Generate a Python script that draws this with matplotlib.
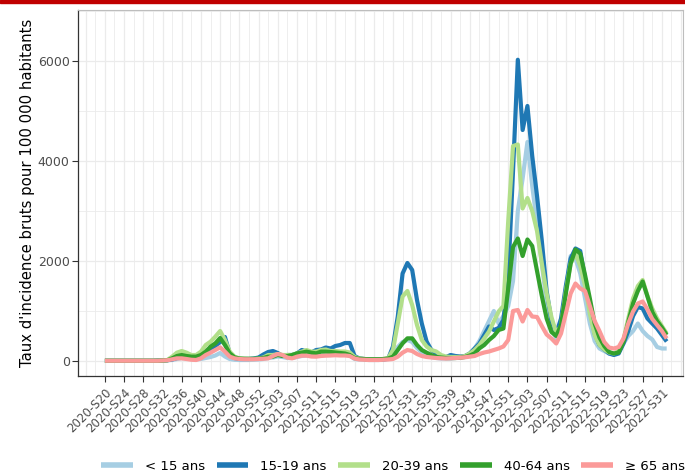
import matplotlib
matplotlib.use("Agg")
import matplotlib.pyplot as plt
from matplotlib.ticker import FixedLocator, MultipleLocator
from matplotlib.patches import Rectangle

# ---- categories (ISO weeks) ----
weeks_2020 = ["2020-S%02d" % w for w in range(20, 54)]
weeks_2021 = ["2021-S%02d" % w for w in range(1, 53)]
weeks_2022 = ["2022-S%02d" % w for w in range(1, 33)]
weeks = weeks_2020 + weeks_2021 + weeks_2022

age_groups = ["< 15 ans", "15-19 ans", "20-39 ans", "40-64 ans", "\u2265 65 ans"]
colors = ["#a6cee3", "#1f78b4", "#b2df8a", "#33a02c", "#fb9a99"]

# ---- values (taux d'incidence pour 100 000 habitants) ----
inc_lt15 = [5, 5, 5, 5, 5, 5, 5, 5, 5, 5, 5, 10, 10, 15,
            20, 40, 60, 50, 40, 35, 40, 60, 80, 110, 160, 90, 40, 25, 20, 20,
            20, 25, 30, 40, 60, 70, 90, 80, 60, 60, 80, 100, 110, 100, 100, 110,
            120, 120, 130, 130, 130, 110, 40, 30, 25, 20, 20, 20, 25, 40,
            120, 280, 380, 420, 380, 260, 170, 110, 80, 60, 50, 50, 50, 60, 70, 90,
            150, 250, 400, 600, 800, 1000, 750, 900, 1100, 1600, 3000, 3650, 4380, 3500,
            2750, 1950, 1150, 650, 450, 650, 1400, 2100, 2050, 1750, 1250, 750, 400, 250,
            200, 150, 150, 190, 350, 500, 600, 750, 600, 500, 430, 280, 250, 250]

inc_15_19 = [5, 5, 5, 5, 5, 5, 5, 5, 5, 5, 5, 10, 10, 15,
             30, 60, 90, 70, 60, 60, 100, 150, 250, 300, 380, 480, 150, 60, 40, 40,
             40, 50, 70, 130, 180, 200, 160, 100, 120, 120, 150, 220, 190, 170, 220, 230,
             270, 250, 300, 320, 360, 360, 100, 50, 40, 30, 30, 30, 30, 45,
             290, 890, 1750, 1960, 1820, 1220, 750, 390, 220, 150, 90, 75, 120, 100, 90, 100,
             150, 250, 350, 520, 690, 620, 660, 820, 1700, 3800, 6025, 4620, 5100, 4100,
             3300, 2400, 1400, 800, 550, 850, 1500, 2050, 2250, 2200, 1650, 1050, 550, 320,
             230, 150, 120, 150, 350, 600, 900, 1080, 1050, 850, 750, 650, 520, 390]

inc_20_39 = [5, 5, 5, 5, 5, 5, 5, 5, 5, 5, 5, 5, 10, 20,
             87, 167, 200, 167, 120, 120, 187, 320, 387, 487, 600, 420, 187, 87, 53, 45,
             40, 40, 50, 70, 120, 120, 140, 120, 120, 120, 153, 187, 220, 187, 187, 220,
             230, 200, 200, 190, 190, 170, 80, 50, 40, 30, 30, 30, 40, 60,
             220, 750, 1290, 1400, 1120, 720, 420, 290, 220, 190, 120, 90, 80, 80, 80, 100,
             150, 220, 320, 450, 590, 790, 990, 1100, 2800, 4300, 4330, 3050, 3260, 3000,
             2600, 1950, 1350, 880, 560, 700, 1400, 1950, 2150, 1900, 1500, 950, 520, 320,
             230, 170, 150, 200, 420, 850, 1250, 1500, 1620, 1300, 1050, 850, 700, 550]

inc_40_64 = [5, 5, 5, 5, 5, 5, 5, 5, 5, 5, 5, 5, 10, 15,
             53, 100, 120, 100, 87, 87, 120, 187, 287, 353, 460, 320, 153, 73, 50, 45,
             45, 45, 50, 60, 87, 87, 120, 100, 100, 120, 153, 167, 187, 167, 153, 187,
             187, 180, 170, 160, 150, 120, 60, 45, 40, 35, 35, 35, 40, 50,
             87, 220, 353, 453, 453, 320, 220, 167, 120, 80, 70, 60, 60, 60, 65, 80,
             110, 153, 253, 320, 420, 500, 620, 650, 1450, 2280, 2450, 2100, 2430, 2300,
             1800, 1300, 850, 580, 500, 720, 1350, 1950, 2230, 2150, 1720, 1250, 750, 470,
             300, 180, 150, 170, 380, 780, 1150, 1400, 1590, 1290, 980, 800, 670, 520]

inc_ge65 = [5, 5, 5, 5, 5, 5, 5, 5, 5, 5, 5, 5, 10, 15,
            33, 53, 53, 40, 25, 20, 53, 120, 167, 220, 273, 187, 87, 53, 40, 35,
            35, 35, 40, 45, 53, 100, 140, 120, 67, 53, 87, 107, 107, 90, 87, 100,
            107, 110, 115, 110, 110, 100, 50, 30, 25, 20, 20, 20, 25, 30,
            40, 87, 167, 220, 200, 140, 100, 80, 70, 60, 55, 50, 55, 60, 65, 75,
            87, 100, 140, 170, 190, 220, 250, 290, 420, 1000, 1020, 790, 1020, 890,
            880, 700, 530, 450, 350, 550, 950, 1350, 1550, 1450, 1400, 1100, 800, 600,
            380, 270, 250, 280, 450, 750, 990, 1150, 1190, 1030, 840, 720, 600, 450]

series = [inc_lt15, inc_15_19, inc_20_39, inc_40_64, inc_ge65]

# ---- figure ----
fig = plt.figure(figsize=(6.85, 4.76), dpi=100)
ax = fig.add_axes([78 / 685, 1 - 376 / 476, 605 / 685, 366 / 476])

x = list(range(len(weeks)))
for vals, col, lab in zip(series, colors, age_groups):
    ax.plot(x[:len(vals)], vals, color=col, lw=3.0, label=lab,
            solid_joinstyle="round", solid_capstyle="butt")

ax.set_xlim(-5.6, 120.4)
ax.set_ylim(-300, 7020)

tick_pos = list(range(0, len(weeks), 4))
ax.xaxis.set_major_locator(FixedLocator(tick_pos))
ax.set_xticklabels([weeks[i] for i in tick_pos], rotation=45, ha="right",
                   va="top", rotation_mode="anchor", fontsize=8.5, color="#4d4d4d")
ax.xaxis.set_minor_locator(MultipleLocator(2))
ax.yaxis.set_major_locator(FixedLocator([0, 2000, 4000, 6000]))
ax.yaxis.set_minor_locator(FixedLocator([1000, 3000, 5000, 7000]))
ax.tick_params(axis="y", labelsize=9, labelcolor="#4d4d4d", pad=2)
ax.tick_params(which="major", length=4, width=0.8, color="#333333")
ax.tick_params(which="minor", length=0)

# grid lines (every 2 weeks, every 1000)
for gx in range(-4, 121, 2):
    ax.axvline(gx, color="#ebebeb", lw=0.9 if gx % 4 == 0 else 0.6, zorder=0)
ax.grid(True, which="major", axis="y", color="#ebebeb", lw=0.9, zorder=0)
ax.grid(True, which="minor", axis="y", color="#ebebeb", lw=0.6, zorder=0)
ax.set_axisbelow(True)

for s in ["top", "right"]:
    ax.spines[s].set_color("#bdbdbd")
    ax.spines[s].set_linewidth(0.8)
for s in ["left", "bottom"]:
    ax.spines[s].set_color("#333333")
    ax.spines[s].set_linewidth(0.9)

ax.set_ylabel("Taux d'incidence bruts pour 100 000 habitants", fontsize=10.7,
              color="black", labelpad=2)

leg = fig.legend(loc="center", bbox_to_anchor=(393 / 685, 1 - 466 / 476), ncol=5,
                 frameon=False, fontsize=9.5, handlelength=2.4, handletextpad=0.9,
                 columnspacing=0.9)
for h in leg.get_lines():
    h.set_linewidth(4)

# red band on top
fig.patches.append(Rectangle((0, 1 - 3 / 476), 1, 3 / 476, transform=fig.transFigure,
                             color="#c00000", zorder=10))

fig.savefig("out.png", dpi=100)
